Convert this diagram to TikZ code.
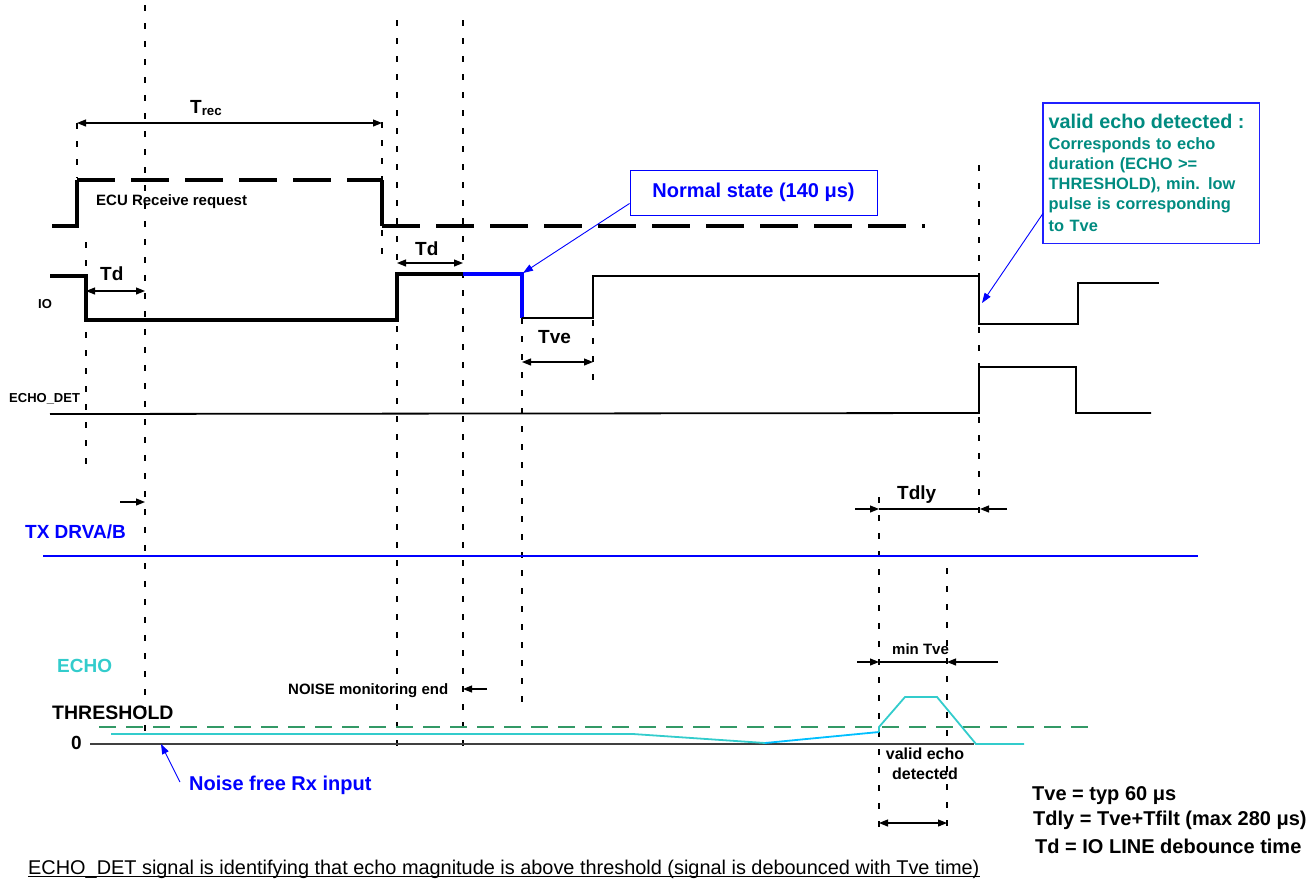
\documentclass[tikz,border=0pt]{standalone}
\usepackage{fontspec}
\setmainfont{Liberation Sans}
\usetikzlibrary{arrows.meta,positioning}
\definecolor{txblue}{HTML}{0000FF}
\definecolor{echocol}{HTML}{33CCCC}
\definecolor{echoblue}{HTML}{00BFFF}
\definecolor{thresh}{HTML}{339966}
\definecolor{zeroline}{HTML}{404040}
\definecolor{validtxt}{HTML}{008B80}
\definecolor{validbox}{HTML}{2020FF}
\newcommand{\fsz}[1]{\fontsize{#1}{#1}\selectfont}

\begin{document}
\begin{tikzpicture}[
  x=1pt, y=-1pt,
  lbl/.style={font=\bfseries\fsz{#1}, inner sep=0pt, anchor=base west},
  tmark/.style={dash pattern=on 6pt off 12pt, line width=1.1pt},
  sigthick/.style={line width=3.2pt},
  sigthin/.style={line width=1.8pt},
  dimarr/.style={{Triangle[length=9pt,width=7pt]}-{Triangle[length=9pt,width=7pt]}, line width=1.1pt},
  arr/.style={-{Triangle[length=9pt,width=7pt]}, line width=1.1pt},
  callout/.style={-{Triangle[length=10pt,width=7pt]}, line width=0.9pt, txblue}
]
  \useasboundingbox (0,0) rectangle (1315,884);

  % time marks
  \draw[tmark] (77,123) -- (77,178);
  \draw[tmark] (86,242) -- (86,475);
  \draw[tmark] (145,5) -- (145,740);
  \draw[tmark] (382,122) -- (382,255);
  \draw[tmark] (397,20) -- (397,750);
  \draw[tmark] (463,20) -- (463,750);
  \draw[tmark] (522,318) -- (522,710);
  \draw[tmark] (593,320) -- (593,383);
  \draw[tmark] (979,165) -- (979,522);
  \draw[tmark] (879,497) -- (879,830);
  \draw[tmark] (947,568) -- (947,830);

  % ECU receive request
  \draw[sigthick] (52,226) -- (77,226) -- (77,180);
  \draw[sigthick, dash pattern=on 38pt off 16pt] (77,180) -- (382,180);
  \draw[sigthick] (382,180) -- (382,226);
  \draw[sigthick, dash pattern=on 38pt off 16pt] (382,226) -- (925,226);
  \node[lbl=15] (ecu) at (96,205) {ECU Receive request};

  % IO line
  \draw[sigthick] (50,276) -- (86,276) -- (86,320) -- (397,320) -- (397,274) -- (463,274);
  \draw[sigthick, txblue] (463,274) -- (522,274) -- (522,318);
  \draw[sigthin] (522,318) -- (593,318) -- (593,276) -- (979,276) -- (979,324)
    -- (1078,324) -- (1078,283) -- (1159,283);
  \node[lbl=13] (io) at (38,308) {IO};

  % ECHO_DET
  \draw[sigthin] (50,414) -- (979,413) -- (979,367) -- (1076,367) -- (1076,413) -- (1151,413);
  \node[lbl=13] (echodet) at (9,402) {ECHO\_DET};

  % TX DRVA/B
  \draw[line width=2.2pt, txblue] (43,556) -- (1198,556);
  \node[lbl=19, text=txblue] (txdrv) at (25,538) {TX DRVA/B};

  % ECHO, threshold and zero
  \draw[line width=1.5pt, zeroline] (90,744) -- (974,744);
  \draw[line width=2pt, thresh, dash pattern=on 17pt off 10pt] (99,727) -- (1090,727);
  \draw[line width=1.8pt, echocol] (111,734) -- (633,734) -- (765,743);
  \draw[line width=1.8pt, echoblue] (765,743) -- (879,732);
  \draw[line width=1.8pt, echocol] (879,732) -- (879,727) -- (905,697) -- (937,697)
    -- (976,744) -- (1024,744);
  \node[lbl=19, text=echocol] (echo) at (57,672) {ECHO};
  \node[lbl=19.5] (thr) at (52,719) {THRESHOLD};
  \node[lbl=19] (zero) at (71,749) {0};

  % dimension arrows
  \coordinate (trecA) at (77,123);   \coordinate (trecB) at (382,123);
  \coordinate (tdA) at (86,291);     \coordinate (tdB) at (145,291);
  \coordinate (tdC) at (397,263);    \coordinate (tdD) at (463,263);
  \coordinate (tveA) at (522,362);   \coordinate (tveB) at (593,362);
  \coordinate (vedA) at (879,823);   \coordinate (vedB) at (947,823);
  \draw[dimarr] (trecA) -- (trecB);
  \draw[dimarr] (tdA) -- (tdB);
  \draw[dimarr] (tdC) -- (tdD);
  \draw[dimarr] (tveA) -- (tveB);
  \draw[dimarr] (vedA) -- (vedB);
  \node[lbl=19] (trec) at (190,113) {T\textsubscript{rec}};
  \node[lbl=19] (td1) at (100,280) {Td};
  \node[lbl=19] (td2) at (415,255) {Td};
  \node[lbl=19] (tve) at (538,343) {Tve};

  % Tdly and min Tve
  \coordinate (dlyA) at (855,509);  \coordinate (dlyB) at (879,509);
  \coordinate (dlyC) at (980,509);  \coordinate (dlyD) at (1007,509);
  \draw[line width=1.1pt] (dlyB) -- (dlyC);
  \draw[arr] (dlyA) -- (dlyB);
  \draw[arr] (dlyD) -- (dlyC);
  \node[lbl=19] (tdly) at (897,499) {Tdly};
  \coordinate (mtA) at (857,662);  \coordinate (mtB) at (879,662);
  \coordinate (mtC) at (947,662);  \coordinate (mtD) at (998,662);
  \draw[line width=1.1pt] (mtB) -- (mtC);
  \draw[arr] (mtA) -- (mtB);
  \draw[arr] (mtD) -- (mtC);
  \node[lbl=15] (mintve) at (892,654) {min Tve};
  \node[font=\bfseries\fsz{16}, inner sep=0pt, align=center, anchor=base] (ved)
    at (925,779) {valid echo\\[4pt]detected};

  % small markers
  \coordinate (mkA) at (120,502);  \coordinate (mkB) at (145,502);
  \draw[arr] (mkA) -- (mkB);
  \node[lbl=15] (noise) at (288,694) {NOISE monitoring end};
  \coordinate (nsA) at (487,689);  \coordinate (nsB) at (463,689);
  \draw[arr] (nsA) -- (nsB);

  % callouts
  \node[draw=txblue, line width=1pt, text=txblue, font=\bfseries\fsz{20},
        minimum width=247, minimum height=45, inner sep=0pt] (nbox) at (753.5,192.5)
        {Normal state (140 μs)};
  \coordinate (nstate) at (523,273);
  \draw[callout] ([yshift=12pt]nbox.south west) -- (nstate);

  \node[anchor=north west, minimum width=216,
        minimum height=140, text width=205, inner xsep=5.5pt, inner ysep=0pt,
        align=left, text=validtxt, font=\bfseries\fontsize{16.4}{20}\selectfont]
        (vbox) at (1043,103)
        {{\fsz{19.8}valid echo detected :}\\[1pt]
         Corresponds to echo\\
         duration (ECHO >=\\
         THRESHOLD), min. low\\
         pulse is corresponding\\[2pt]
         to Tve};
  \draw[validbox, line width=1.3pt] (vbox.south west) rectangle (vbox.north east);
  \coordinate (vecho) at (982,303);
  \draw[callout] ([yshift=30pt]vbox.south west) -- (vecho);

  \node[lbl=20, text=txblue] (nfree) at (189,790) {Noise free Rx input};
  \coordinate (rxin) at (161,744);
  \draw[callout] (nfree.west |- 0,782) ++(-9,0) coordinate (nfreeA) (nfreeA) -- (rxin);

  % notes
  \node[lbl=20] (note1) at (1032,800) {Tve = typ 60 μs};
  \node[lbl=20] (note2) at (1033,825) {Tdly = Tve+Tfilt (max 280 μs)};
  \node[lbl=20] (note3) at (1035,853) {Td = IO LINE debounce time};

  \node[font=\fsz{19.9}, inner sep=0pt, anchor=base west] (capt) at (28,874)
    {ECHO\_DET signal is identifying that echo magnitude is above threshold (signal is debounced with Tve time)};
  \draw[line width=0.9pt] ([yshift=-2pt]capt.base west) -- ([yshift=-2pt]capt.base east);
\end{tikzpicture}
\end{document}
